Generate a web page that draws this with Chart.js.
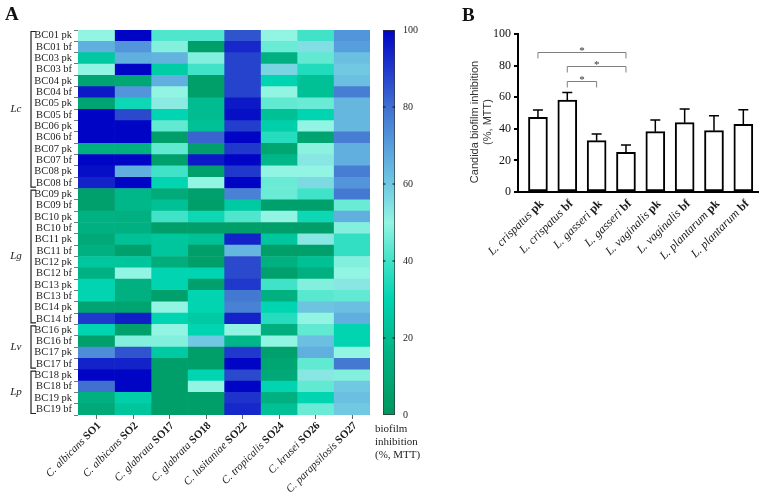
<!DOCTYPE html>
<html><head><meta charset="utf-8">
<script src="https://cdn.jsdelivr.net/npm/chart.js@4/dist/chart.umd.min.js"></script>
<style>
html,body{margin:0;padding:0;background:#fff;}
#wrap{position:relative;width:764px;height:500px;}
canvas{position:absolute;left:0;top:0;}
</style></head><body>
<div id="wrap">
<canvas id="heat" width="764" height="500"></canvas>
<canvas id="cbar" width="764" height="500"></canvas>
<canvas id="bars" width="764" height="500"></canvas>
</div>
<script>
// ---------- Panel A data ----------
const heatCols = ['SO1','SO2','SO17','SO18','SO22','SO24','SO26','SO27'];
const heatSpecies = ['C. albicans','C. albicans','C. glabrata','C. glabrata','C. lusitaniae','C. tropicalis','C. krusei','C. parapsilosis'];
const heatRows = ['BC01 pk','BC01 bf','BC03 pk','BC03 bf','BC04 pk','BC04 bf','BC05 pk','BC05 bf','BC06 pk','BC06 bf','BC07 pk','BC07 bf','BC08 pk','BC08 bf',
  'BC09 pk','BC09 bf','BC10 pk','BC10 bf','BC11 pk','BC11 bf','BC12 pk','BC12 bf','BC13 pk','BC13 bf','BC14 pk','BC14 bf',
  'BC16 pk','BC16 bf','BC17 pk','BC17 bf','BC18 pk','BC18 bf','BC19 pk','BC19 bf'];
const groupNames = ['Lc','Lg','Lv','Lp'];
const groupSizes = [14,12,4,4];
const lcValues = [
  [50,100,42,42,85,50,40,72],
  [66,72,48,5,93,45,55,70],
  [25,66,65,48,88,15,44,62],
  [50,100,27,40,88,57,35,60],
  [8,10,66,5,88,30,22,62],
  [96,72,50,5,88,50,22,77],
  [8,32,52,20,96,44,45,64],
  [100,87,30,20,98,22,30,64],
  [100,100,44,22,89,28,50,64],
  [100,100,5,82,100,36,8,77],
  [15,15,44,6,90,9,49,66],
  [100,100,6,96,100,18,53,66],
  [98,66,40,6,90,50,50,77],
  [94,100,30,50,100,45,56,72]];
const lgValues = [
  [6,18,12,6,76,45,40,78],
  [6,18,22,5,26,6,6,45],
  [16,15,40,32,42,50,32,66],
  [15,15,5,5,5,5,5,48],
  [11,22,24,22,94,24,53,38],
  [15,6,24,5,64,5,6,38],
  [24,24,13,5,87,15,22,48],
  [16,50,30,30,87,6,15,50],
  [30,15,30,6,90,40,48,53],
  [30,15,6,30,78,15,43,44],
  [8,8,50,30,76,30,61,62],
  [90,95,30,26,94,36,50,66]];
const lvValues = [
  [30,6,50,30,50,14,44,30],
  [6,48,48,60,18,50,62,30],
  [74,85,26,5,90,6,66,50],
  [94,94,5,5,100,9,44,78]];
const lpValues = [
  [100,100,5,30,87,11,53,48],
  [80,100,5,50,100,30,44,60],
  [15,28,5,5,91,15,30,62],
  [11,24,5,5,93,22,45,60]];
const colorbarTicks = [0,20,40,60,80,100];

// ---------- Panel B data ----------
const barSpecies = ['L. crispatus','L. crispatus','L. gasseri','L. gasseri','L. vaginalis','L. vaginalis','L. plantarum','L. plantarum'];
const barForm = ['pk','bf','pk','bf','pk','bf','pk','bf'];
const barMeans = [47.3,58.2,32.5,25.1,38.2,43.9,38.8,42.8];
const barErrTop = [51.9,62.9,36.7,29.7,45.6,52.5,48.3,52.1];
const comparisons = [[0,3],[1,3],[1,2]];
const bracketLevels = [88.6,79.7,70.3];

const heatValues = lcValues.concat(lgValues, lvValues, lpValues);

// colour map
const cmap = [
  [0,[0,150,94]],[15,[0,176,128]],[30,[0,212,176]],[40,[64,226,200]],[50,[146,244,226]],
  [60,[112,200,226]],[70,[86,158,220]],[80,[64,112,208]],[90,[32,56,204]],[100,[0,4,196]]];
function valueColor(v){
  for(let i=1;i<cmap.length;i++){
    if(v<=cmap[i][0]){
      const a=cmap[i-1], b=cmap[i]; const t=(v-a[0])/(b[0]-a[0]);
      const c=a[1].map((x,k)=>Math.round(x+(b[1][k]-x)*t));
      return 'rgb('+c.join(',')+')';
    }
  }
  return 'rgb('+cmap[cmap.length-1][1].join(',')+')';
}

const SERIF = '"Liberation Serif", "Times New Roman", serif';

function drawMixed(ctx, x, y, italicText, boldText, size){
  ctx.save();
  ctx.translate(x, y);
  ctx.rotate(-Math.PI/4);
  ctx.font = 'bold '+size+'px '+SERIF;
  const wb = ctx.measureText(boldText).width;
  ctx.font = 'italic '+size+'px '+SERIF;
  const wi = ctx.measureText(italicText+' ').width;
  ctx.textAlign='left'; ctx.textBaseline='middle'; ctx.fillStyle='#1a1a1a';
  ctx.fillText(italicText+' ', -(wi+wb), 0);
  ctx.font = 'bold '+size+'px '+SERIF;
  ctx.fillText(boldText, -wb, 0);
  ctx.restore();
}

const heatLabels = {
  id:'heatLabels',
  afterDraw(chart){
    const ctx=chart.ctx, xs=chart.scales.x, ys=chart.scales.y, area=chart.chartArea;
    ctx.save();
    ctx.fillStyle='#111';
    ctx.font='bold 19px '+SERIF; ctx.textAlign='left'; ctx.textBaseline='alphabetic';
    ctx.fillText('A', 5, 20);
    ctx.strokeStyle='#666'; ctx.lineWidth=1;
    heatCols.forEach((c,i)=>{
      const px = Math.round(xs.getPixelForValue(i+0.5))+0.5;
      ctx.beginPath(); ctx.moveTo(px, area.bottom); ctx.lineTo(px, area.bottom+4); ctx.stroke();
      drawMixed(ctx, px+3, area.bottom+9, heatSpecies[i], c, 11);
    });
    // group brackets
    const rowH = (area.bottom-area.top)/heatRows.length;
    let start=0;
    ctx.strokeStyle='#222'; ctx.lineWidth=1.2;
    groupNames.forEach((g,gi)=>{
      const n=groupSizes[gi];
      const top = ys.getPixelForValue(start) - rowH/2 + 1.5;
      const bot = ys.getPixelForValue(start+n-1) + rowH/2 - 1.5;
      const bx = 31;
      ctx.beginPath(); ctx.moveTo(bx+5, top); ctx.lineTo(bx, top); ctx.lineTo(bx, bot); ctx.lineTo(bx+5, bot); ctx.stroke();
      ctx.font='italic 11px '+SERIF; ctx.textAlign='center'; ctx.textBaseline='middle'; ctx.fillStyle='#222';
      ctx.fillText(g, 16, (top+bot)/2);
      start+=n;
    });
    ctx.restore();
  }
};

new Chart(document.getElementById('heat'), {
  type:'bar',
  data:{
    labels: heatRows,
    datasets: heatCols.map((c,ci)=>({
      label:c,
      data: heatRows.map(()=>[ci, ci+1]),
      backgroundColor: heatValues.map(r=>valueColor(r[ci])),
      borderWidth:0, barPercentage:1, categoryPercentage:1, grouped:false
    }))
  },
  options:{
    indexAxis:'y', responsive:false, animation:false, events:[],
    layout:{padding:{left:0, top:30, right:394, bottom:85}},
    plugins:{legend:{display:false}, tooltip:{enabled:false}},
    scales:{
      x:{type:'linear', min:0, max:8, display:false},
      y:{type:'category', offset:true,
         grid:{drawOnChartArea:false, drawTicks:true, tickLength:4, color:'#777'},
         border:{display:false},
         ticks:{font:{family:SERIF, size:10.5}, color:'#222', padding:2, autoSkip:false},
         afterFit(s){ s.width = 78; }}
    }
  },
  plugins:[heatLabels]
});

// ---------- colour bar ----------
const cbarDeco = {
  id:'cbarDeco',
  afterDraw(chart){
    const ctx=chart.ctx, ys=chart.scales.y, a=chart.chartArea;
    ctx.save();
    ctx.strokeStyle='#111'; ctx.lineWidth=1.2;
    colorbarTicks.forEach(t=>{
      if(t===0||t===100) return;
      const py=ys.getPixelForValue(t);
      ctx.beginPath(); ctx.moveTo(a.left, py); ctx.lineTo(a.left+2.5, py); ctx.moveTo(a.right-2.5, py); ctx.lineTo(a.right, py); ctx.stroke();
    });
    ctx.font='11px '+SERIF; ctx.fillStyle='#222'; ctx.textAlign='left'; ctx.textBaseline='middle';
    ctx.fillText('biofilm', 375, 429);
    ctx.fillText('inhibition', 375, 442);
    ctx.fillText('(%, MTT)', 375, 455);
    ctx.restore();
  }
};
new Chart(document.getElementById('cbar'), {
  type:'bar',
  data:{labels:[''], datasets:[{
    data:[100],
    backgroundColor(ctx){
      const a=ctx.chart.chartArea; if(!a) return '#000';
      const g=ctx.chart.ctx.createLinearGradient(0,a.bottom,0,a.top);
      cmap.forEach(s=>g.addColorStop(s[0]/100, 'rgb('+s[1].join(',')+')'));
      return g;
    },
    borderColor:'#333', borderWidth:1, borderSkipped:false, barPercentage:1, categoryPercentage:1
  }]},
  options:{
    responsive:false, animation:false, events:[],
    layout:{padding:{left:383, top:30, right:339, bottom:85}},
    plugins:{legend:{display:false}, tooltip:{enabled:false}},
    scales:{
      x:{display:false},
      y:{position:'right', min:0, max:100, afterBuildTicks(s){ s.ticks = colorbarTicks.map(v=>({value:v})); },
         ticks:{font:{family:SERIF, size:10}, color:'#222', padding:0},
         grid:{display:false}, border:{display:false},
         afterFit(s){ s.width=30; }}
    }
  },
  plugins:[cbarDeco]
});

// ---------- Panel B ----------
const barDeco = {
  id:'barDeco',
  afterDatasetsDraw(chart){
    const ctx=chart.ctx, xs=chart.scales.x, ys=chart.scales.y, a=chart.chartArea;
    ctx.save();
    // error bars
    ctx.strokeStyle='#000'; ctx.lineWidth=1.5;
    barMeans.forEach((v,i)=>{
      const px=xs.getPixelForValue(i), y1=ys.getPixelForValue(v), y2=ys.getPixelForValue(barErrTop[i]);
      ctx.beginPath(); ctx.moveTo(px, y1); ctx.lineTo(px, y2); ctx.moveTo(px-5, y2); ctx.lineTo(px+5, y2); ctx.stroke();
    });
    // significance brackets
    ctx.strokeStyle='#808080'; ctx.lineWidth=1;
    comparisons.forEach((c,k)=>{
      const x1=xs.getPixelForValue(c[0]), x2=xs.getPixelForValue(c[1]);
      const py=Math.round(ys.getPixelForValue(bracketLevels[k]))+0.5;
      ctx.beginPath(); ctx.moveTo(x1, py+6); ctx.lineTo(x1, py); ctx.lineTo(x2, py); ctx.lineTo(x2, py+6); ctx.stroke();
      ctx.font='11px '+SERIF; ctx.fillStyle='#333'; ctx.textAlign='center'; ctx.textBaseline='alphabetic';
      ctx.fillText('*', (x1+x2)/2, py+1);
    });
    ctx.restore();
  },
  afterDraw(chart){
    const ctx=chart.ctx, xs=chart.scales.x, a=chart.chartArea;
    ctx.save();
    ctx.font='bold 19px '+SERIF; ctx.fillStyle='#111'; ctx.textAlign='left'; ctx.textBaseline='alphabetic';
    ctx.fillText('B', 462, 21);
    barSpecies.forEach((s,i)=>{
      drawMixed(ctx, xs.getPixelForValue(i)+4, a.bottom+10, s, barForm[i], 12);
    });
    // y title
    ctx.font='11px "Liberation Sans", Arial, sans-serif'; ctx.fillStyle='#333'; ctx.textAlign='center'; ctx.textBaseline='middle';
    ctx.save(); ctx.translate(475, 122); ctx.rotate(-Math.PI/2); ctx.fillText('Candida biofilm inhibition', 0, 0); ctx.restore();
    ctx.save(); ctx.translate(488, 122); ctx.rotate(-Math.PI/2); ctx.fillText('(%, MTT)', 0, 0); ctx.restore();
    ctx.restore();
  }
};
new Chart(document.getElementById('bars'), {
  type:'bar',
  data:{datasets:[{
    data: barMeans.map((v,i)=>({x:i, y:v})),
    backgroundColor:'#fff', borderColor:'#000', borderWidth:2, borderSkipped:false, barThickness:19
  }]},
  options:{
    responsive:false, animation:false, events:[],
    layout:{padding:{left:478, top:34, right:6, bottom:308}},
    plugins:{legend:{display:false}, tooltip:{enabled:false}},
    scales:{
      x:{type:'linear', min:-0.68, max:7.5, offset:false, bounds:'ticks',
         ticks:{display:false}, grid:{display:false, offset:false},
         border:{display:true, width:2, color:'#000'}, afterFit(s){ s.height=0; }},
      y:{min:0, max:100, ticks:{stepSize:20, font:{family:SERIF, size:12}, color:'#111', padding:3},
         grid:{drawOnChartArea:false, drawTicks:true, tickLength:4, color:'#000', lineWidth:2},
         border:{width:2, color:'#000'},
         afterFit(s){ s.width=40; }}
    }
  },
  plugins:[barDeco]
});
</script>
</body></html>
